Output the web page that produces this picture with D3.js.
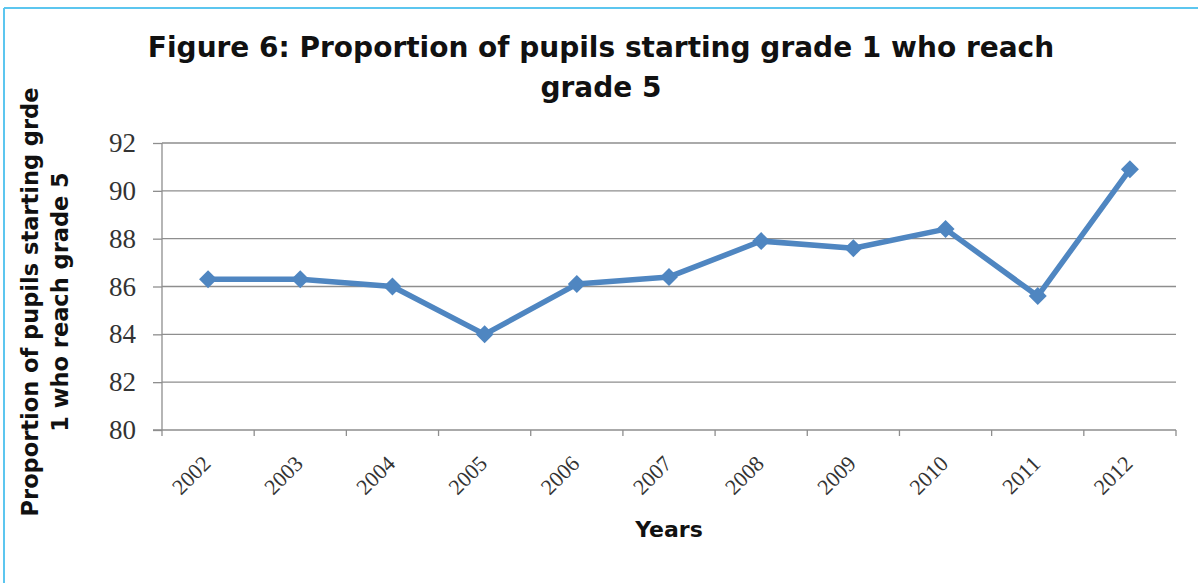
<!DOCTYPE html>
<html>
<head>
<meta charset="utf-8">
<script src="https://cdn.jsdelivr.net/npm/d3@7"></script>
<style>
  html, body { margin: 0; padding: 0; background: #fff; }
  svg { display: block; }
</style>
</head>
<body>
<div id="chart"></div>
<script>
// data
const years = ["2002", "2003", "2004", "2005", "2006", "2007", "2008", "2009", "2010", "2011", "2012"];
const proportion = [86.3, 86.3, 86.0, 84.0, 86.1, 86.4, 87.9, 87.6, 88.4, 85.6, 90.9];
const yTicks = [80, 82, 84, 86, 88, 90, 92];
const titleLines = ["Figure 6: Proportion of pupils starting grade 1 who reach", "grade 5"];
const yLabelLines = ["Proportion of pupils starting grde", "1 who reach grade 5"];

const W = 1198, H = 583;
const margin = {top: 143, right: 22, bottom: 153, left: 162};
const width = W - margin.left - margin.right,
      height = H - margin.top - margin.bottom;

const headFont = "'DejaVu Sans', 'Open Sans', sans-serif";
const tickFont = "'Liberation Serif', 'DejaVu Serif', serif";

const svg = d3.select("#chart")
    .append("svg")
    .attr("width", W)
    .attr("height", H);

// light blue frame (top and left only are visible)
svg.append("line")
    .attr("x1", 4).attr("x2", W).attr("y1", 8).attr("y2", 8)
    .attr("stroke", "#5cc6ef").attr("stroke-width", 2);
svg.append("line")
    .attr("x1", 4).attr("x2", 4).attr("y1", 8).attr("y2", H)
    .attr("stroke", "#5cc6ef").attr("stroke-width", 2);

// title
svg.append("text")
    .attr("text-anchor", "middle")
    .style("font-family", headFont)
    .style("font-weight", "bold")
    .style("font-size", "28px")
    .style("fill", "#111")
    .selectAll("tspan")
    .data(titleLines)
    .enter().append("tspan")
    .attr("x", 601)
    .attr("y", (d, i) => 57 + i * 40)
    .text(d => d);

const g = svg.append("g")
    .attr("transform", "translate(" + margin.left + "," + margin.top + ")");

const x = d3.scaleBand()
    .domain(years)
    .range([0, width]);

const y = d3.scaleLinear()
    .domain([80, 92])
    .range([height, 0]);

// gridlines
g.selectAll("line.grid")
    .data(yTicks.slice(1))
    .enter().append("line")
    .attr("class", "grid")
    .attr("x1", 0).attr("x2", width)
    .attr("y1", d => y(d)).attr("y2", d => y(d))
    .attr("stroke", "#8e8e8e")
    .attr("stroke-width", 1.3);

// y axis
const yAxis = g.append("g")
    .call(d3.axisLeft(y).tickValues(yTicks).tickSize(9).tickPadding(17));
yAxis.select(".domain").attr("stroke", "#8e8e8e").attr("stroke-width", 1.3)
    .attr("d", "M0," + height + "V0");
yAxis.selectAll(".tick line").attr("stroke", "#8e8e8e").attr("stroke-width", 1.3);
yAxis.selectAll(".tick text")
    .style("font-family", tickFont)
    .style("font-size", "27px")
    .style("fill", "#333");

// x axis: ticks at category boundaries
const xAxis = g.append("g")
    .attr("transform", "translate(0," + height + ")");
xAxis.append("line")
    .attr("x1", -9).attr("x2", width)
    .attr("stroke", "#8e8e8e").attr("stroke-width", 1.3);
xAxis.selectAll("line.tick")
    .data(years.concat(["end"]))
    .enter().append("line")
    .attr("class", "tick")
    .attr("x1", (d, i) => i * x.bandwidth())
    .attr("x2", (d, i) => i * x.bandwidth())
    .attr("y1", 0).attr("y2", 6)
    .attr("stroke", "#8e8e8e").attr("stroke-width", 1.3);
xAxis.selectAll("text")
    .data(years)
    .enter().append("text")
    .attr("text-anchor", "end")
    .attr("transform", d => "translate(" + (x(d) + x.bandwidth() / 2 + 4) + ",35) rotate(-45)")
    .style("font-family", tickFont)
    .style("font-size", "22px")
    .style("fill", "#333")
    .text(d => d);

// line
const line = d3.line()
    .x((d, i) => x(years[i]) + x.bandwidth() / 2)
    .y(d => y(d));

g.append("path")
    .datum(proportion)
    .attr("d", line)
    .attr("fill", "none")
    .attr("stroke", "#4f86c1")
    .attr("stroke-width", 5.5)
    .attr("stroke-linejoin", "round");

// diamond markers
g.selectAll("path.marker")
    .data(proportion)
    .enter().append("path")
    .attr("class", "marker")
    .attr("d", "M0,-9L9,0L0,9L-9,0Z")
    .attr("transform", (d, i) => "translate(" + (x(years[i]) + x.bandwidth() / 2) + "," + y(d) + ")")
    .attr("fill", "#4f86c1");

// axis titles
svg.append("text")
    .attr("x", 669)
    .attr("y", 537)
    .attr("text-anchor", "middle")
    .style("font-family", headFont)
    .style("font-weight", "bold")
    .style("font-size", "22px")
    .style("fill", "#111")
    .text("Years");

svg.append("text")
    .attr("text-anchor", "middle")
    .attr("transform", "translate(0,302) rotate(-90)")
    .style("font-family", headFont)
    .style("font-weight", "bold")
    .style("font-size", "22.5px")
    .style("fill", "#111")
    .selectAll("tspan")
    .data(yLabelLines)
    .enter().append("tspan")
    .attr("x", 0)
    .attr("y", (d, i) => 38 + i * 30)
    .text(d => d);
</script>
</body>
</html>
